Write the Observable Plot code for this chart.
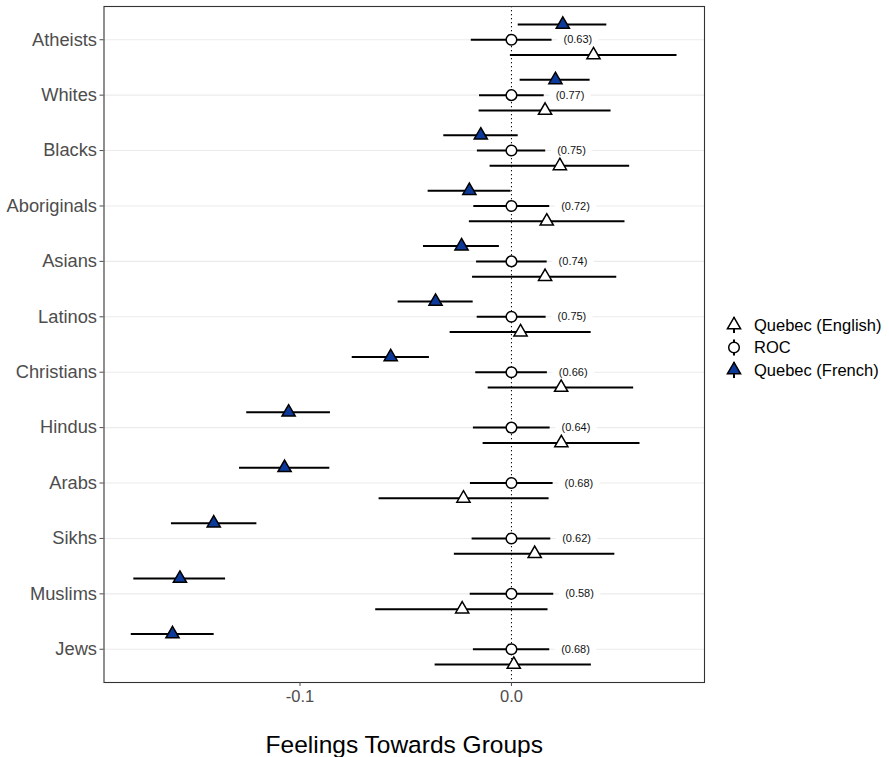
<!DOCTYPE html>
<html>
<head>
<meta charset="utf-8">
<script src="https://cdn.jsdelivr.net/npm/d3@7"></script>
<script src="https://cdn.jsdelivr.net/npm/@observablehq/plot@0.6"></script>
<style>
  body { margin: 0; background: #fff; font-family: "Liberation Sans", Arial, Helvetica, sans-serif; }
  #wrap { position: relative; width: 889px; height: 757px; }
  #legend { position: absolute; left: 0; top: 0; }
</style>
</head>
<body>
<div id="wrap"></div>
<script>
const groups = ["Atheists","Whites","Blacks","Aboriginals","Asians","Latinos","Christians","Hindus","Arabs","Sikhs","Muslims","Jews"];

const frenchEst = [0.0243, 0.0208, -0.0145, -0.0199, -0.0236, -0.0359, -0.0571, -0.1054, -0.1073, -0.1408, -0.1568, -0.1603];
const frenchLo  = [0.0032, 0.0041, -0.0320, -0.0394, -0.0416, -0.0536, -0.0753, -0.1252, -0.1286, -0.1608, -0.1786, -0.1798];
const frenchHi  = [0.0451, 0.0372, 0.0032, -0.0002, -0.0057, -0.0181, -0.0388, -0.0856, -0.0859, -0.1204, -0.1352, -0.1406];

const rocEst = [0, 0, 0, 0, 0, 0, 0, 0, 0, 0, 0, 0];
const rocLo  = [-0.0190, -0.0151, -0.0161, -0.0178, -0.0165, -0.0162, -0.0169, -0.0180, -0.0194, -0.0186, -0.0195, -0.0180];
const rocHi  = [0.0192, 0.0155, 0.0162, 0.0181, 0.0169, 0.0164, 0.0170, 0.0183, 0.0197, 0.0186, 0.0200, 0.0181];

const englishEst = [0.0388, 0.0159, 0.0229, 0.0167, 0.0159, 0.0043, 0.0235, 0.0236, -0.0227, 0.0110, -0.0233, 0.0011];
const englishLo  = [-0.0005, -0.0153, -0.0101, -0.0199, -0.0184, -0.0290, -0.0110, -0.0134, -0.0626, -0.0270, -0.0642, -0.0361];
const englishHi  = [0.0783, 0.0471, 0.0559, 0.0537, 0.0498, 0.0377, 0.0578, 0.0608, 0.0178, 0.0489, 0.0173, 0.0378];

const corrLabels = ["(0.63)","(0.77)","(0.75)","(0.72)","(0.74)","(0.75)","(0.66)","(0.64)","(0.68)","(0.62)","(0.58)","(0.68)"];

const xTicks = [-0.1, 0.0];
const xTitle = "Feelings Towards Groups";
const legendLabels = ["Quebec (English)", "ROC", "Quebec (French)"];

const french = groups.map((g, i) => ({group: g, est: frenchEst[i], lo: frenchLo[i], hi: frenchHi[i]}));
const roc = groups.map((g, i) => ({group: g, est: rocEst[i], lo: rocLo[i], hi: rocHi[i], label: corrLabels[i]}));
const english = groups.map((g, i) => ({group: g, est: englishEst[i], lo: englishLo[i], hi: englishHi[i]}));

const BLUE = "#0b3a9b";
const OFF = 15.3;

const chart = Plot.plot({
  width: 889,
  height: 757,
  marginLeft: 103.5,
  marginRight: 185,
  marginTop: 6,
  marginBottom: 75,
  style: {fontFamily: "'Liberation Sans', Arial, Helvetica, sans-serif", background: "#fff"},
  x: {domain: [-0.1927, 0.0913]},
  y: {type: "point", domain: groups, padding: 0.6, round: false},
  marks: [
    Plot.gridY({stroke: "#ebebeb", strokeOpacity: 1, strokeWidth: 1.1}),
    Plot.ruleX([0], {stroke: "#000", strokeDasharray: "1.3,2.7", strokeWidth: 1}),
    Plot.text(roc, {x: d => d.hi + 0.0122, y: "group", text: "label", fontSize: 11, fill: "#111",
                    stroke: "#fff", strokeWidth: 14, textAnchor: "middle"}),
    Plot.ruleY(french, {y: "group", x1: "lo", x2: "hi", dy: -OFF, stroke: "#000", strokeWidth: 2}),
    Plot.ruleY(roc, {y: "group", x1: "lo", x2: "hi", stroke: "#000", strokeWidth: 2}),
    Plot.ruleY(english, {y: "group", x1: "lo", x2: "hi", dy: OFF, stroke: "#000", strokeWidth: 2}),
    Plot.dot(french, {x: "est", y: "group", dy: -OFF, symbol: "triangle", r: 4.9, fill: BLUE, stroke: "#000", strokeWidth: 1.5}),
    Plot.dot(roc, {x: "est", y: "group", r: 5.3, fill: "#fff", stroke: "#000", strokeWidth: 1.5}),
    Plot.dot(english, {x: "est", y: "group", dy: OFF, symbol: "triangle", r: 4.9, fill: "#fff", stroke: "#000", strokeWidth: 1.5}),
    Plot.frame({stroke: "#333", strokeWidth: 1.1}),
    Plot.axisY({tickSize: 4, tickPadding: 3, fontSize: 18.3, color: "#4d4d4d", label: null}),
    Plot.axisX({ticks: xTicks, tickSize: 4, tickPadding: 4, fontSize: 16.5, color: "#4d4d4d", label: null,
                tickFormat: d => d.toFixed(1)}),
    Plot.text([xTitle], {frameAnchor: "bottom", dy: 63, fontSize: 24.5, fill: "#000", lineAnchor: "middle"})
  ]
});

const wrap = document.getElementById("wrap");
wrap.appendChild(chart);

// legend (ggplot-style pointrange keys)
const leg = d3.create("svg").attr("id", "legend").attr("width", 889).attr("height", 757)
  .style("position", "absolute").style("left", "0px").style("top", "0px")
  .style("font-family", "'Liberation Sans', Arial, Helvetica, sans-serif");
const legendStyles = [
  {symbol: d3.symbolTriangle, fill: "#fff"},
  {symbol: d3.symbolCircle, fill: "#fff"},
  {symbol: d3.symbolTriangle, fill: BLUE}
];
const lx = 734, ly0 = 325, lstep = 22.5;
legendLabels.forEach((lab, i) => {
  const g = leg.append("g").attr("transform", `translate(${lx},${ly0 + i * lstep})`);
  g.append("line").attr("x1", 0).attr("x2", 0).attr("y1", -8).attr("y2", 8).attr("stroke", "#000").attr("stroke-width", 2);
  const size = legendStyles[i].symbol === d3.symbolCircle ? 5.3 * 5.3 * Math.PI : 4.9 * 4.9 * Math.PI;
  g.append("path").attr("d", d3.symbol(legendStyles[i].symbol, size)())
    .attr("fill", legendStyles[i].fill).attr("stroke", "#000").attr("stroke-width", 1.5);
  g.append("text").attr("x", 20).attr("y", 0).attr("dy", "0.35em").attr("font-size", 16.5).attr("fill", "#000").text(lab);
});
wrap.appendChild(leg.node());
</script>
</body>
</html>
